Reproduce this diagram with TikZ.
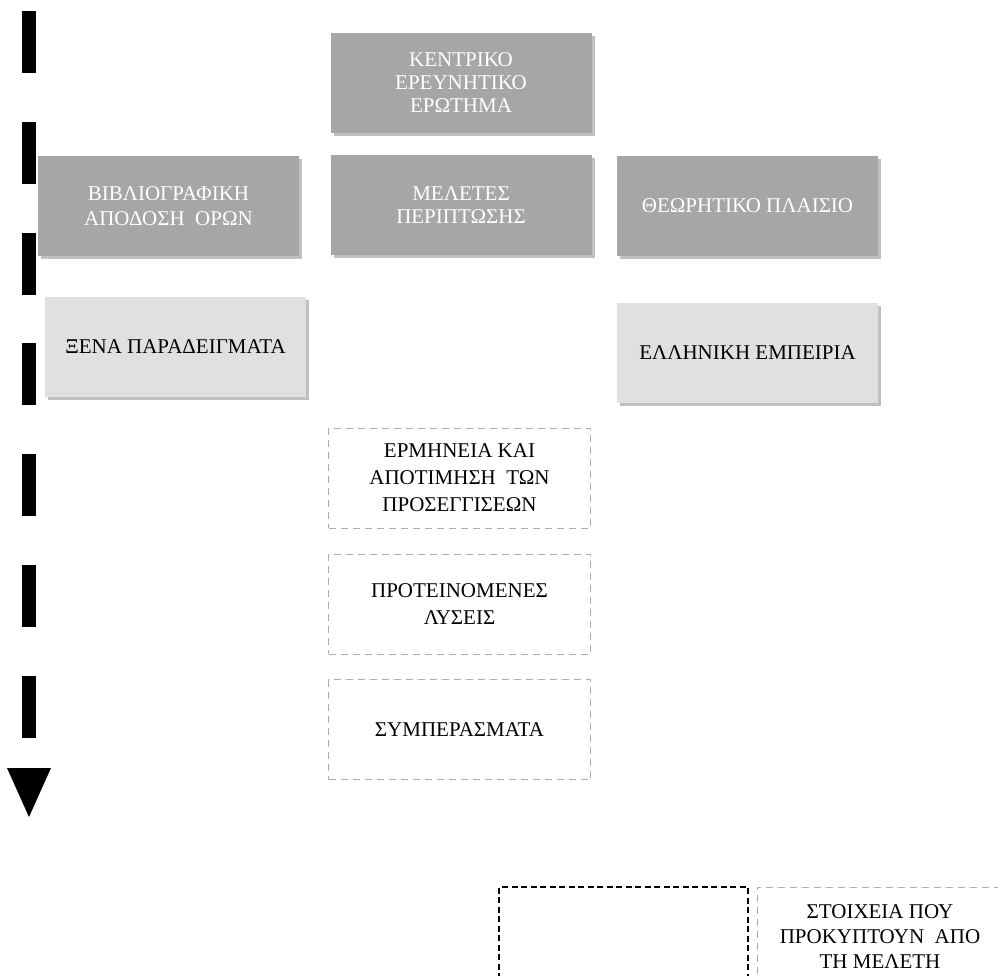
\documentclass[tikz,border=0pt]{standalone}
\usepackage{fontspec}
\setmainfont{Liberation Serif}
\usetikzlibrary{shadows,positioning}
\definecolor{dunkelgrau}{RGB}{166,166,166}
\definecolor{hellgrau}{RGB}{224,224,224}
\definecolor{schatten}{RGB}{192,192,192}

\begin{document}
\begin{tikzpicture}[x=1pt,y=-1pt,
  every node/.style={font=\fontsize{21}{23}\selectfont,inner sep=0pt,align=center},
  kasten/.style={minimum width=261pt,minimum height=100pt,
    drop shadow={shadow xshift=3pt,shadow yshift=-3pt,fill=schatten,opacity=1}},
  dunkel/.style={kasten,fill=dunkelgrau,text=white},
  hell/.style={kasten,fill=hellgrau,text=black},
  strich/.style={draw=gray!65,line width=1pt,dash pattern=on 7pt off 5pt,
    minimum width=262pt,minimum height=100pt,font=\fontsize{21}{27}\selectfont}]
%Seite 998 x 976, y nach unten
\useasboundingbox (0,0) rectangle (998,976);
  \pgfmathsetmacro{\periode}{110.8}
  \pgfmathsetmacro{\strichlang}{62}
%senkrechter Pfeil links
\foreach \i in {0,...,6}{
\fill[black] (22,11+\i*\periode) rectangle (36,11+\i*\periode+\strichlang);
}
\fill[black] (7,768) -- (51,768) -- (29,817) -- cycle;
%obere Kaesten
\node[dunkel] (kern) at (461,83) {ΚΕΝΤΡΙΚΟ\\ΕΡΕΥΝΗΤΙΚΟ\\ΕΡΩΤΗΜΑ};
\node[dunkel] (meletes) at (461,205.5) {ΜΕΛΕΤΕΣ\\ΠΕΡΙΠΤΩΣΗΣ};
\node[dunkel,font=\fontsize{21}{25}\selectfont] (biblio) at (168.5,206) {ΒΙΒΛΙΟΓΡΑΦΙΚΗ\\ΑΠΟΔΟΣΗ\ \ ΟΡΩΝ};
\node[dunkel] (theoria) at (747.5,206) {ΘΕΩΡΗΤΙΚΟ ΠΛΑΙΣΙΟ};
\node[hell] (xena) at (175.5,347) {ΞΕΝΑ ΠΑΡΑΔΕΙΓΜΑΤΑ};
\node[hell] (ellada) at (747.5,352.5) {ΕΛΛΗΝΙΚΗ ΕΜΠΕΙΡΙΑ};
%gestrichelte Kaesten
\node[strich] (ermineia) at (459.5,478) {ΕΡΜΗΝΕΙΑ ΚΑΙ\\ΑΠΟΤΙΜΗΣΗ\ \ ΤΩΝ\\ΠΡΟΣΕΓΓΙΣΕΩΝ};
\node[strich] (lyseis) at (459.5,604) {ΠΡΟΤΕΙΝΟΜΕΝΕΣ\\ΛΥΣΕΙΣ};
\node[strich] (symper) at (459.5,729.5) {ΣΥΜΠΕΡΑΣΜΑΤΑ};
%unten rechts
\node[draw=black,line width=1.5pt,dash pattern=on 6pt off 3.5pt,
  minimum width=249pt,minimum height=100pt] (leer) at (623.5,937) {};
\node[strich,minimum width=246pt,font=\fontsize{21}{25}\selectfont] (stoixeia) at (880,937) {ΣΤΟΙΧΕΙΑ ΠΟΥ\\ΠΡΟΚΥΠΤΟΥΝ\ \ ΑΠΟ\\ΤΗ ΜΕΛΕΤΗ};
\end{tikzpicture}
\end{document}
